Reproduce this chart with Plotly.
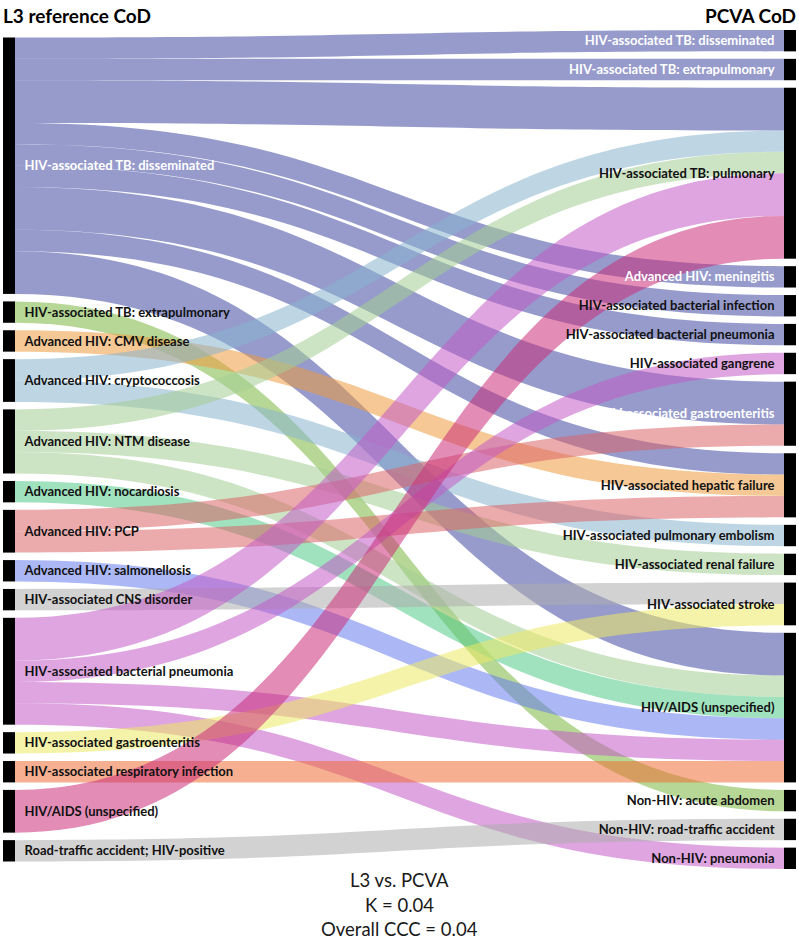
import plotly.graph_objects as go

# ---------------- data ----------------
left_labels = [
    "HIV-associated TB: disseminated",
    "HIV-associated TB: extrapulmonary",
    "Advanced HIV: CMV disease",
    "Advanced HIV: cryptococcosis",
    "Advanced HIV: NTM disease",
    "Advanced HIV: nocardiosis",
    "Advanced HIV: PCP",
    "Advanced HIV: salmonellosis",
    "HIV-associated CNS disorder",
    "HIV-associated bacterial pneumonia",
    "HIV-associated gastroenteritis",
    "HIV-associated respiratory infection",
    "HIV/AIDS (unspecified)",
    "Road-traffic accident; HIV-positive",
]
right_labels = [
    "HIV-associated TB: disseminated",
    "HIV-associated TB: extrapulmonary",
    "HIV-associated TB: pulmonary",
    "Advanced HIV: meningitis",
    "HIV-associated bacterial infection",
    "HIV-associated bacterial pneumonia",
    "HIV-associated gangrene",
    "HIV-associated gastroenteritis",
    "HIV-associated hepatic failure",
    "HIV-associated pulmonary embolism",
    "HIV-associated renal failure",
    "HIV-associated stroke",
    "HIV/AIDS (unspecified)",
    "Non-HIV: acute abdomen",
    "Non-HIV: road-traffic accident",
    "Non-HIV: pneumonia",
]
# link list: L3 cause (left index) -> PCVA cause (right index), count
link_src = [0, 0, 0, 0, 0, 0, 0, 0, 0,
            1, 2, 3, 3, 4, 4, 4, 5, 6, 6, 7, 8,
            9, 9, 9, 9, 10, 11, 12, 13]
link_tgt = [0, 1, 2, 3, 4, 5, 7, 8, 12,
            13, 8, 2, 9, 2, 10, 12, 12, 7, 8, 12, 11,
            2, 6, 12, 15, 11, 12, 2, 14]
link_val = [1, 1, 2, 1, 1, 1, 2, 1, 2,
            1, 1, 1, 1, 1, 1, 1, 1, 1, 1, 1, 1,
            2, 1, 1, 1, 1, 1, 2, 1]
# colour of links per left (source) cause
left_colors = [
    "rgba(64,73,162,0.55)",
    "rgba(124,182,64,0.55)",
    "rgba(237,155,64,0.55)",
    "rgba(137,180,206,0.55)",
    "rgba(164,206,148,0.55)",
    "rgba(82,200,137,0.55)",
    "rgba(219,100,104,0.55)",
    "rgba(104,126,237,0.55)",
    "rgba(173,173,173,0.55)",
    "rgba(195,91,199,0.55)",
    "rgba(237,233,100,0.55)",
    "rgba(240,110,55,0.55)",
    "rgba(203,46,122,0.55)",
    "rgba(173,173,173,0.55)",
]
white_left = [0]
white_right = [0, 1, 3, 7]

title_left = "L3 reference CoD"
title_right = "PCVA CoD"
stats_lines = ["L3 vs. PCVA", "K = 0.04", "Overall CCC = 0.04"]

# ---------------- layout params ----------------
FIG_W, FIG_H = 799, 939
MARG = dict(l=3, r=3, t=30, b=70)
PAD = 7.5
THICK = 12
FONT = "Lato"
GAP = "\u2002"  # extra gap between node bar and its label

dom_w = FIG_W - MARG["l"] - MARG["r"]
dom_h = FIG_H - MARG["t"] - MARG["b"]

nL, nR = len(left_labels), len(right_labels)
left_tot = [0] * nL
right_tot = [0] * nR
for s, t, v in zip(link_src, link_tgt, link_val):
    left_tot[s] += v
    right_tot[t] += v

ky = min((dom_h - (len(c) - 1) * PAD) / sum(c) for c in (left_tot, right_tot))


def centers(tots):
    total = sum(tots) * ky + (len(tots) - 1) * PAD
    y = (dom_h - total) / 2
    out = []
    for v in tots:
        h = v * ky
        out.append((y + h / 2) / dom_h)
        y += h + PAD
    return out


def lab(text, white):
    return f'<span style="color:white">{text}</span>' if white else text


labels = [GAP + lab(t, i in white_left) for i, t in enumerate(left_labels)] + \
         [lab(t, i in white_right) + GAP for i, t in enumerate(right_labels)]
node_x = [(THICK / 2) / dom_w] * nL + [1 - (THICK / 2) / dom_w] * nR
node_y = centers(left_tot) + centers(right_tot)

fig = go.Figure(go.Sankey(
    arrangement="fixed",
    domain=dict(x=[0, 1], y=[0, 1]),
    node=dict(
        label=labels,
        x=node_x,
        y=node_y,
        pad=PAD,
        thickness=THICK,
        color="black",
        line=dict(width=0),
        hoverinfo="none",
    ),
    link=dict(
        source=link_src,
        target=[nL + t for t in link_tgt],
        value=link_val,
        color=[left_colors[s] for s in link_src],
        hoverinfo="none",
    ),
    textfont=dict(family=FONT, size=13, color="#111111", weight="bold", shadow="none"),
))

annotations = [
    dict(text=f"<b>{title_left}</b>", x=0, xanchor="left", y=1, yanchor="bottom",
         xshift=-2, yshift=1, font=dict(family=FONT, size=19, color="black")),
    dict(text=f"<b>{title_right}</b>", x=1, xanchor="right", y=1, yanchor="bottom",
         xshift=2, yshift=1, font=dict(family=FONT, size=19, color="black")),
]
for i, line in enumerate(stats_lines):
    annotations.append(dict(text=line, x=0.5, xanchor="center", y=0, yanchor="middle",
                            yshift=-11 - 24.5 * i,
                            font=dict(family=FONT, size=18.5, color="#1a1a1a")))
for a in annotations:
    a.update(xref="paper", yref="paper", showarrow=False)

fig.update_layout(
    width=FIG_W, height=FIG_H,
    margin=MARG,
    paper_bgcolor="white",
    plot_bgcolor="white",
    font=dict(family=FONT),
    annotations=annotations,
)

fig.write_html(
    "out.html",
    config={"displayModeBar": False},
    post_script="document.body.style.margin='0';document.body.style.overflow='hidden';",
)
